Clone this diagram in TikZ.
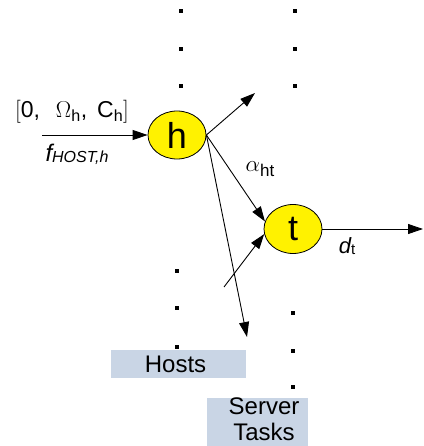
\RequirePackage{fix-cm}
\documentclass[tikz,border=0pt]{standalone}
\usepackage{fontspec}
\setmainfont{Liberation Sans}
\usepackage{tikz}
\usetikzlibrary{arrows.meta,shapes.geometric}
\definecolor{boxblue}{HTML}{C9D5E5}
\newcommand{\fsz}[1]{\fontsize{#1}{#1}\selectfont}
\begin{document}
\begin{tikzpicture}[x=1pt,y=-1pt,
  state/.style={ellipse,draw,fill=yellow,line width=0.8pt,minimum width=58pt,minimum height=48pt,inner sep=0pt,font=\fsz{36}},
  link/.style={-{Triangle[length=15pt,width=10pt]},line width=0.9pt},
  lblbox/.style={fill=boxblue,inner sep=0pt,font=\fsz{24}}]
  \useasboundingbox (0,0) rectangle (423,446);
  \foreach \x/\y in {181/11,181/49,181/86,295/11,295/49,295/86,177/271,177/308,177/347,293/313,293/351,293/387}
    \fill (\x-2.3,\y-2.3) rectangle +(4.6,4.6);
  \node[lblbox,minimum width=135pt,minimum height=28pt] (hosts) at (178.5,364) {Hosts\hspace*{6pt}};
  \node[lblbox,minimum width=101pt,minimum height=50pt] (tasks) at (257.5,423) {};
  \node[font=\fontsize{24}{26}\selectfont,align=center,inner sep=0pt] (taskstxt) at (264,419) {Server\\Tasks};
  \node[state] (h) at (177,135) {h};
  \node[state,minimum height=49pt] (t) at (293,229) {t};
  \coordinate (in) at (42,135);
  \coordinate (up) at (255,93);
  \coordinate (low) at (224,287);
  \coordinate (down) at (247,337);
  \coordinate (out) at (423,229);
  \draw[link] (in) -- (h);
  \draw[link] (h.east) -- (up);
  \draw[link] (h.east) -- (t.165);
  \draw[link] (h.east) -- (down);
  \draw[link] (low) -- (t.190);
  \draw[link] (t) -- (out);
  \node[font=\fsz{23}] (cap) at (72,112) {$[$0,\hspace{16pt}$\Omega_{\mathrm h}$,\hspace{10pt}$\mathrm{C}_{\mathrm h}]$};
  \node[font=\fsz{24}] (fh) at (77,154) {\itshape f\raisebox{-1pt}{\fsz{16}HOST,h}};
  \node[font=\fsz{23}] (aht) at (260,169) {$\alpha$\raisebox{-5pt}{\fsz{17}ht}};
  \node[font=\fsz{22}] (dt) at (347,246) {\itshape d\raisebox{-1pt}{\fsz{15}\upshape t}};
\end{tikzpicture}
\end{document}
